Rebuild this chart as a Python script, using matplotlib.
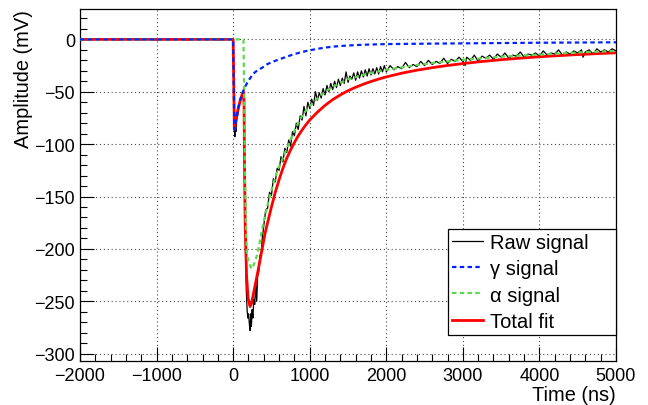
import matplotlib
matplotlib.use("Agg")
import matplotlib.pyplot as plt
from matplotlib.ticker import MultipleLocator

plt.rcParams['font.family'] = ['Liberation Sans', 'DejaVu Sans']

# raw waveform (ns, mV)
raw_t = [-2000, -1900, -1800, -1700, -1600, -1500, -1400, -1300, -1200, -1100,
         -1000, -900, -800, -700, -600, -500, -400, -300, -200, -100, 0,
         8, 16, 22, 28, 36, 48, 60, 72, 84, 96, 108, 120, 132,
         140, 148, 156, 164, 172, 182, 192, 202, 212, 222, 230, 238, 248,
         258, 270, 282, 295, 308, 320, 335, 350, 365, 380,
         400, 425, 450, 475, 500, 525, 550, 575, 600, 625, 650, 675,
         700, 725, 750, 775, 800, 825, 850, 875, 900, 925, 950, 975,
         1000, 1025, 1050, 1075, 1100, 1125, 1150, 1175, 1200, 1225, 1250, 1275,
         1300, 1325, 1350, 1375, 1400, 1425, 1450, 1475, 1500, 1525, 1550, 1575,
         1600, 1625, 1650, 1675, 1700, 1725, 1750, 1775, 1800, 1825, 1850, 1875,
         1900, 1925, 1950, 1975,
         2000, 2050, 2100, 2150, 2200, 2250, 2300, 2350, 2400, 2450,
         2500, 2550, 2600, 2650, 2700, 2750, 2800, 2850, 2900, 2950,
         3000, 3030, 3050, 3100, 3150, 3200, 3250, 3300, 3350, 3400, 3450,
         3500, 3550, 3600, 3650, 3700, 3750, 3800, 3850, 3900, 3950,
         4000, 4050, 4100, 4150, 4200, 4250, 4300, 4350, 4400, 4450,
         4500, 4550, 4570, 4600, 4650, 4700, 4750, 4800, 4850, 4900, 4950, 5000]
raw_v = [0.3, -0.4, 0.5, -0.2, 0.4, -0.5, 0.2, 0.6, -0.3, 0.1,
         -0.6, 0.4, -0.2, 0.5, -0.4, 0.3, -0.1, 0.6, -0.5, 0.2, 0.0,
         -45, -85, -93, -84, -88, -76, -72, -66, -62, -58, -55, -53, -52,
         -70, -125, -175, -215, -240, -258, -266, -262, -272, -278, -262, -274, -258,
         -266, -248, -253, -234, -250, -226, -222, -206, -205, -190,
         -178, -163, -161, -146, -149, -133, -136, -123, -125, -112, -117, -104,
         -108, -96, -102, -88, -92, -80, -86, -73, -77, -64, -73, -60,
         -66, -57, -63, -50, -58, -51, -56, -47, -53, -44, -50, -42,
         -48, -40, -46, -38, -44, -37, -42, -31, -41, -35, -38, -32,
         -39, -31, -37, -30, -36, -29, -35, -28, -34, -28, -33, -27,
         -33, -26, -31, -25,
         -31, -25, -29, -26, -28, -22, -27, -24, -26, -21,
         -25, -20, -24, -21, -23, -18, -23, -19, -21, -17,
         -21, -25, -17, -20, -15, -21, -16, -18, -15, -19, -14,
         -17, -13, -18, -15, -16, -12, -17, -14, -15, -13,
         -16, -11, -15, -13, -14, -10, -15, -12, -14, -11,
         -13, -10, -17, -12, -10, -14, -9, -12, -10, -12, -9, -11]

# gamma component
gam_t = [-2000, 0, 16, 30, 60, 90, 133, 165, 199, 260, 300, 349, 400, 450, 530,
         612, 700, 780, 870, 961, 1080, 1200, 1340, 1484, 1700, 2000, 2500, 3000,
         4000, 5000]
gam_v = [0, 0, -86, -80, -68, -58, -49, -44, -39.5, -33, -30.5, -28.4, -26, -23.5, -21,
         -18.8, -16.5, -14.5, -12.6, -11, -9.3, -7.8, -6.7, -5.9, -5.1, -4.5, -4.1, -3.8,
         -3.2, -2.8]

# alpha component
alp_t = [-2000, 0, 135, 145, 155, 165, 178, 200, 243, 270, 300, 330, 395, 450,
         504, 580, 679, 770, 874, 980, 1092, 1200, 1309, 1500, 1745, 2000, 2180,
         2400, 2616, 3000, 3500, 4000, 4500, 5000]
alp_v = [0, 0, 0, -60, -130, -172, -203, -213, -219, -215, -209, -200, -175, -158,
         -143, -125, -108, -92, -76, -65, -57, -50, -45, -38, -33, -29, -27,
         -24.5, -22.5, -19.5, -16.5, -14.5, -12.5, -11]

# total fit
fit_t = [-2000, 0, 16, 30, 60, 90, 120, 135, 142, 150, 157, 175, 195, 221, 240,
         270, 330, 417, 460, 500, 550, 600, 650, 700, 750, 800, 850, 900, 950,
         1000, 1100, 1200, 1300, 1400, 1500, 1600, 1700, 1800, 1900, 2000, 2200,
         2400, 2600, 2800, 3000, 3250, 3500, 3750, 4000, 4250, 4500, 4750, 5000]
fit_v = [0, 0, -86, -80, -68, -59, -52, -50, -60, -130, -175, -225, -247, -255, -252,
         -241, -219, -185, -172, -160, -146, -134, -123, -113.5, -105.5, -98.5, -92, -86.5, -81.5,
         -77, -69.5, -63, -57.5, -53, -49, -45.7, -42.8, -40.2, -37.9, -35.8, -32.3,
         -29.4, -27, -24.9, -23.1, -21.1, -19.4, -17.9, -16.6, -15.5, -14.5, -13.6, -12.8]

fig = plt.figure(figsize=(6.48, 4.06), dpi=100)
ax = fig.add_axes([80 / 648, 1 - 362 / 406, 536 / 648, 352 / 406])

ax.plot(raw_t, raw_v, color="black", lw=0.9, label="Raw signal", zorder=2)
ax.plot(fit_t, fit_v, color="#ff0000", lw=2.0, label="Total fit", zorder=3)
ax.plot(alp_t, alp_v, color="#5ad94a", lw=1.6, ls=(0, (2, 1.5)), label="α signal", zorder=4)
ax.plot(gam_t, gam_v, color="#0022ff", lw=1.6, ls=(0, (2, 1.5)), label="γ signal", zorder=5)

ax.set_xlim(-2000, 5000)
ax.set_ylim(-307, 29)
ax.xaxis.set_major_locator(MultipleLocator(1000))
ax.xaxis.set_minor_locator(MultipleLocator(200))
ax.yaxis.set_major_locator(MultipleLocator(50))
ax.yaxis.set_minor_locator(MultipleLocator(10))
ax.tick_params(which="both", direction="in", top=False, right=False, labelsize=13)
ax.tick_params(which="major", length=10, width=0.8)
ax.tick_params(which="minor", length=5, width=0.8)
ax.tick_params(axis="x", pad=4)
ax.grid(True, which="major", color="#444444", lw=0.8, ls=(0, (1, 2.5)))
for s in ax.spines.values():
    s.set_linewidth(0.9)

ax.set_xlabel("Time (ns)", fontsize=14.4, loc="right", labelpad=1)
ax.set_ylabel("Amplitude (mV)", fontsize=14.4, loc="top", labelpad=1)

h, l = ax.get_legend_handles_labels()
order = [0, 3, 2, 1]
leg = ax.legend([h[i] for i in order], [l[i] for i in order],
                loc="upper left", bbox_to_anchor=(0.6866, 0.0727, 0.3134, 0.3023),
                mode="expand", fontsize=14.5, frameon=True, fancybox=False,
                edgecolor="black", framealpha=1, borderpad=0.2,
                labelspacing=0.36, handlelength=1.55, handletextpad=0.35,
                borderaxespad=0)
leg.get_frame().set_linewidth(0.9)

fig.savefig("out.png", dpi=100)
